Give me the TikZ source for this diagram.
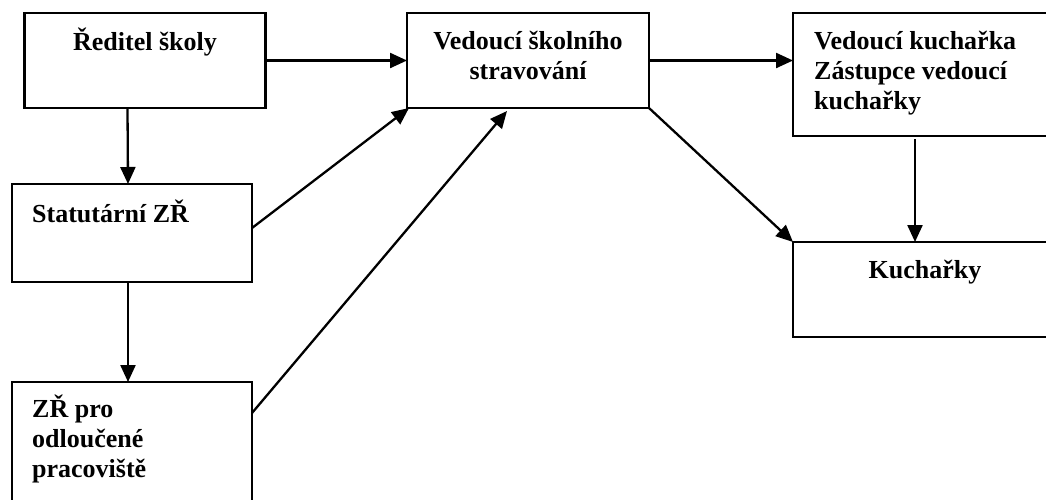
\documentclass[tikz,border=0pt]{standalone}
\usepackage{fontspec}
\setmainfont{Liberation Serif}
\usetikzlibrary{arrows.meta,calc}

\tikzset{
  box/.style={draw, line width=2.3pt, inner sep=0pt, outer sep=0pt, rectangle},
  lbl/.style={inner sep=0pt, font=\fontsize{26}{30}\selectfont\bfseries},
  link/.style={line width=2.3pt, -{Triangle[length=17pt,width=15pt]}},
}

\begin{document}
\begin{tikzpicture}[x=1pt,y=-1pt]
  \useasboundingbox (0,0) rectangle (1046,499);
  \clip (0,0) rectangle (1046,499);

  % boxes of the organisation chart
  \node[box, minimum width=241pt, minimum height=95pt]  (red)  at (145,60.5) {};
  \node[box, minimum width=240pt, minimum height=98pt]  (stat) at (132,233) {};
  \node[box, minimum width=240pt, minimum height=148pt] (zr)   at (132,456) {};
  \node[box, minimum width=242pt, minimum height=95pt]  (ved)  at (528,60.5) {};
  \node[box, minimum width=272pt, minimum height=123pt] (vk)   at (929,74.5) {};
  \node[box, minimum width=272pt, minimum height=95pt]  (kuch) at (929,289.5) {};

  % texts
  \node[lbl, anchor=base] (t-red) at (145,50) {Ředitel školy};
  \node[lbl, anchor=base west] (t-stat) at (32,222) {Statutární ZŘ};
  \node[lbl, anchor=base west] (t-zr1) at (32,417) {ZŘ pro};
  \node[lbl, anchor=base west] (t-zr2) at (32,447) {odloučené};
  \node[lbl, anchor=base west] (t-zr3) at (32,477) {pracoviště};
  \node[lbl, anchor=base] (t-ved1) at (528,49) {Vedoucí školního};
  \node[lbl, anchor=base] (t-ved2) at (528,79) {stravování};
  \node[lbl, anchor=base west] (t-vk1) at (814,49) {Vedoucí kuchařka};
  \node[lbl, anchor=base west] (t-vk2) at (814,79) {Zástupce vedoucí};
  \node[lbl, anchor=base west] (t-vk3) at (814,109) {kuchařky};
  \node[lbl, anchor=base] (t-kuch) at (925,278) {Kuchařky};

  % connectors
  \draw[link] (red.east) -- (ved.west);
  \draw[link] ($(red.south west)+(103,0)$) -- ($(stat.north west)+(116,0)$);
  \draw[link] ($(stat.south west)+(116,0)$) -- ($(zr.north west)+(116,0)$);
  \draw[link] ($(stat.north east)+(0,44)$) -- ($(ved.south west)+(2,0)$);
  \draw[link] ($(zr.north east)+(0,31)$) -- ($(ved.south west)+(100,3)$);
  \draw[link] (ved.east) -- (vk.west |- ved.east);
  \draw[link] (ved.south east) -- (kuch.north west);
  \draw[link] ($(vk.south west)+(122,3)$) -- ($(kuch.north west)+(122,0)$);
\end{tikzpicture}
\end{document}
